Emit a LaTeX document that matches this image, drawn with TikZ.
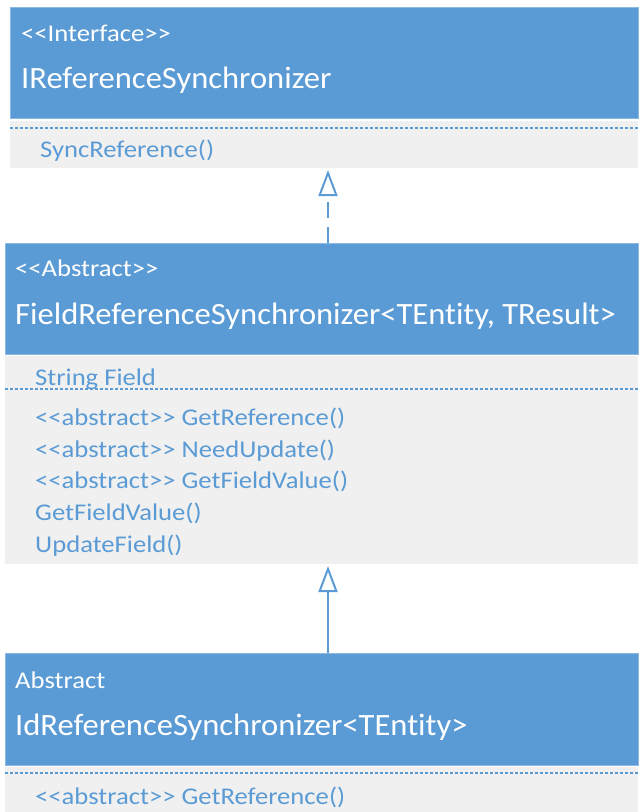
\documentclass[tikz,border=0pt]{standalone}
\usepackage{fontspec}
\usepackage{tikz}
\usetikzlibrary{arrows.meta,positioning,calc}
\newfontfamily\memberfont{Carlito}[FakeStretch=1.11, Ligatures=NoCommon]
\newfontfamily\namefont{Carlito}[FakeStretch=1.05, Ligatures=NoCommon]
\definecolor{umlblue}{HTML}{5B9BD5}
\definecolor{umledge}{HTML}{8CB8E4}
\definecolor{umlgray}{HTML}{F0F0F0}

\begin{document}
\begin{tikzpicture}[x=1pt, y=-1pt,
    head/.style={fill=umlblue, draw=umledge, line width=0.8pt, anchor=north west, inner sep=0pt, outer sep=0pt},
    body/.style={fill=umlgray, anchor=north west, inner sep=0pt, outer sep=0pt},
    stereo/.style={anchor=base west, inner sep=0pt, text=white, font=\memberfont\fontsize{24}{28}\selectfont},
    cname/.style={anchor=base west, inner sep=0pt, text=white, font=\namefont\fontsize{31}{36}\selectfont},
    member/.style={anchor=base west, inner sep=0pt, text=umlblue, font=\memberfont\fontsize{24}{28}\selectfont},
    sep/.style={draw=umlblue, line width=1.2pt, dash pattern=on 3pt off 2pt},
    impl/.style={draw=umlblue, line width=2pt, dash pattern=on 16pt off 9pt, shorten >=2pt,
                 -{Triangle[open, length=26pt 0 0, width=19pt 0 0]}},
    inherit/.style={draw=umlblue, line width=2pt, shorten >=2pt,
                 -{Triangle[open, length=26pt 0 0, width=19pt 0 0]}}]
  \useasboundingbox (0,0) rectangle (638,812);

  % IReferenceSynchronizer
  \node[head, minimum width=628pt, minimum height=111pt] (H1) at (10,7) {};
  \node[body, minimum width=628pt, minimum height=47pt] (B1) at (10,121) {};
  \node[stereo] (S1) at (21,41) {<<Interface>>};
  \node[cname] (N1) at (21,88) {IReferenceSynchronizer};
  \draw[sep] (B1.north west) ++(0,7) coordinate (D1) -- (D1 -| B1.east);
  \node[member] (M11) at (40,157) {SyncReference()};

  % FieldReferenceSynchronizer
  \node[head, minimum width=633pt, minimum height=111pt] (H2) at (5,243) {};
  \node[body, minimum width=633pt, minimum height=208pt] (B2) at (5,356) {};
  \node[stereo] (S2) at (15,276) {<<Abstract>>};
  \node[cname] (N2) at (15,324) {FieldReferenceSynchronizer<TEntity, TResult>};
  \node[member] (A21) at (35,385) {String Field};
  \draw[sep] (B2.north west) ++(0,33) coordinate (D2) -- (D2 -| B2.east);
  \node[member] (M21) at (35,425) {<<abstract>> GetReference()};
  \node[member] (M22) at (35,457) {<<abstract>> NeedUpdate()};
  \node[member] (M23) at (35,488.5) {<<abstract>> GetFieldValue()};
  \node[member] (M24) at (35,520) {GetFieldValue()};
  \node[member] (M25) at (35,552) {UpdateField()};

  % IdReferenceSynchronizer
  \node[head, minimum width=633pt, minimum height=112pt] (H3) at (5,653) {};
  \node[body, minimum width=633pt, minimum height=50pt] (B3) at (5,767) {};
  \node[stereo] (S3) at (15,688) {Abstract};
  \node[cname] (N3) at (15,735) {IdReferenceSynchronizer<TEntity>};
  \draw[sep] (B3.north west) ++(0,6) coordinate (D3) -- (D3 -| B3.east);
  \node[member] (M31) at (35,804) {<<abstract>> GetReference()};

  % connectors
  \coordinate (mid) at (328,0);
  \draw[impl] (H2.north -| mid) -- (B1.south -| mid);
  \draw[inherit] (H3.north -| mid) -- (B2.south -| mid);
\end{tikzpicture}
\end{document}
